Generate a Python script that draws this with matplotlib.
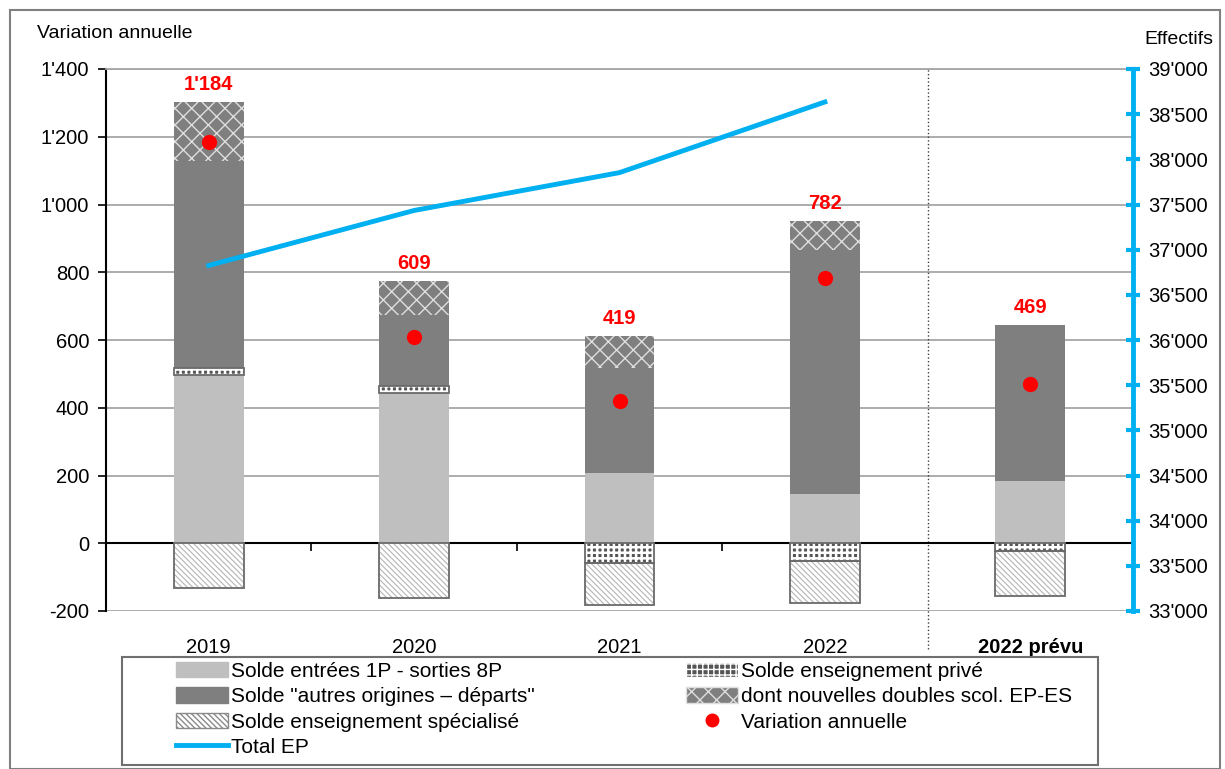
import numpy as np
import matplotlib
matplotlib.use('Agg')
import matplotlib.pyplot as plt
from matplotlib.patches import Patch, Rectangle
from matplotlib.lines import Line2D
from matplotlib.ticker import FuncFormatter

plt.rcParams['font.family'] = ['Liberation Sans', 'DejaVu Sans']

# données
annees = ['2019', '2020', '2021', '2022', '2022 prévu']
entrees = [496, 443, 207, 146, 185]          # Solde entrées 1P - sorties 8P
prive = [22, 20, -57, -51, -22]              # Solde enseignement privé
autres = [610, 212, 310, 721, 458]           # Solde "autres origines – départs"
doubles = [175, 98, 94, 84, 0]               # dont nouvelles doubles scol. EP-ES
specialise = [-133, -163, -125, -124, -133]  # Solde enseignement spécialisé
variation = [1184, 609, 419, 782, 469]       # Variation annuelle
total_ep = [36825, 37434, 37853, 38635]      # Total EP (effectifs)

GRIS_CLAIR = '#bfbfbf'
GRIS_FONCE = '#7f7f7f'
CYAN = '#00b0f0'

# styles des segments
st_entrees = dict(facecolor=GRIS_CLAIR, edgecolor=GRIS_CLAIR)
st_prive = dict(facecolor='#555555', hatch='+++', edgecolor='white')
st_autres = dict(facecolor=GRIS_FONCE, edgecolor=GRIS_FONCE)
st_doubles = dict(facecolor=GRIS_FONCE, hatch='xx', edgecolor='#dedede')
st_spe = dict(facecolor='white', hatch='\\\\\\\\\\\\', edgecolor='#b4b4b4')
hatch_lw = {id(st_prive): 1.8, id(st_doubles): 1.0, id(st_spe): 0.8}


def apos(v, pos=None):
    return f"{int(round(v)):,}".replace(',', "'")


def patch(style):
    with plt.rc_context({'hatch.linewidth': hatch_lw.get(id(style), 1.0)}):
        return Patch(**style)


fig = plt.figure(figsize=(12.25, 7.69), dpi=100)
ax = fig.add_axes([106/1225, 1-611/769, (1133-106)/1225, (611-69)/769])
ax2 = ax.twinx()

x = np.arange(len(annees))
w = 0.34

# empilement positif / négatif
series = [(entrees, st_entrees), (prive, st_prive), (autres, st_autres),
          (doubles, st_doubles), (specialise, st_spe)]
pos_cum = np.zeros(len(annees))
neg_cum = np.zeros(len(annees))
for vals, style in series:
    v = np.array(vals, dtype=float)
    bottom = np.where(v >= 0, pos_cum, neg_cum)
    with plt.rc_context({'hatch.linewidth': hatch_lw.get(id(style), 1.0)}):
        ax.bar(x, v, w, bottom=bottom, linewidth=0, zorder=3, **style)
    if style is st_prive or style is st_spe:
        # contour gris des segments hachurés
        ax.bar(x, v, w, bottom=bottom, fill=False, edgecolor='#6a6a6a',
               linewidth=1.3, zorder=4)
    pos_cum += np.where(v >= 0, v, 0)
    neg_cum += np.where(v < 0, v, 0)

ax.plot(x, variation, 'o', color='red', markersize=10, zorder=6)
for xi, top, val in zip(x, pos_cum, variation):
    ax.annotate(apos(val), (xi, top), xytext=(0, 6), textcoords='offset points',
                ha='center', va='bottom', color='red', fontsize=14.5,
                fontweight='bold', zorder=7)

# axe gauche
ax.set_xlim(-0.5, len(annees) - 0.5)
ax.set_ylim(-200, 1400)
ax.set_yticks(np.arange(-200, 1401, 200))
ax.yaxis.set_major_formatter(FuncFormatter(apos))
ax.yaxis.grid(True, color='#a6a6a6', linewidth=1.3, zorder=0)
ax.set_axisbelow(True)
ax.tick_params(axis='y', labelsize=14.5, length=6, width=1.2, color='black', pad=6)
ax.spines['left'].set_linewidth(1.5)
ax.spines['top'].set_color('#a6a6a6')
ax.spines['top'].set_linewidth(1.3)
ax.spines['right'].set_visible(False)
ax.spines['bottom'].set_position(('data', 0))
ax.spines['bottom'].set_linewidth(1.5)
ax.set_xticks([0.5, 1.5, 2.5, 4.5])
ax.set_xticklabels([])
ax.tick_params(axis='x', length=6, width=1.2, direction='out')
for i, lab in enumerate(annees):
    ax.text(i, -0.05, lab, transform=ax.get_xaxis_transform(), ha='center', va='top',
            fontsize=14.5, fontweight='bold' if 'prévu' in lab else 'normal')

ax.axvline(3.5, ymin=-0.07, ymax=1, color='#404040', linestyle=':', linewidth=1,
           clip_on=False, zorder=2)

# axe droit (effectifs), dessiné par-dessus les barres
ax2.plot(x[:len(total_ep)], total_ep, color=CYAN, linewidth=3.5, zorder=5)
ax2.set_ylim(33000, 39000)
ax2.set_yticks(np.arange(33000, 39001, 500))
ax2.yaxis.set_major_formatter(FuncFormatter(apos))
ax2.tick_params(axis='y', labelsize=14.5, direction='inout', length=10, width=3,
                color=CYAN, pad=6)
ax2.spines['right'].set_color(CYAN)
ax2.spines['right'].set_linewidth(3.5)
for s in ['left', 'top', 'bottom']:
    ax2.spines[s].set_visible(False)
ax2.set_zorder(ax.get_zorder() + 1)
ax2.patch.set_visible(False)

fig.text(37/1225, 1-34/769, 'Variation annuelle', fontsize=14, va='center', ha='left')
fig.text(1213/1225, 1-40/769, 'Effectifs', fontsize=14, va='center', ha='right')

# légende en deux colonnes, cadre commun
col1 = [(patch(st_entrees), 'Solde entrées 1P - sorties 8P'),
        (patch(st_autres), 'Solde "autres origines – départs"'),
        (Patch(facecolor='white', hatch='\\\\\\\\\\\\', edgecolor='#8a8a8a'),
         'Solde enseignement spécialisé'),
        (Line2D([], [], color=CYAN, linewidth=3.5), 'Total EP')]
col2 = [(patch(st_prive), 'Solde enseignement privé'),
        (patch(st_doubles), 'dont nouvelles doubles scol. EP-ES'),
        (Line2D([], [], marker='o', color='red', linestyle='none', markersize=9),
         'Variation annuelle')]
kw = dict(loc='upper left', fontsize=15, handlelength=2.5, handleheight=0.75,
          handletextpad=0.15, labelspacing=0.3, borderpad=0, frameon=False,
          borderaxespad=0)
leg1 = fig.legend(*zip(*col1), bbox_to_anchor=(176/1225, 1-662/769), **kw)
leg2 = fig.legend(*zip(*col2), bbox_to_anchor=(686/1225, 1-662/769), **kw)

fig.patches.append(Rectangle((122/1225, 1-765/769), (1098-122)/1225, (765-657)/769,
                             transform=fig.transFigure, fill=False,
                             edgecolor='#707070', linewidth=1.5))
fig.patches.append(Rectangle((10/1225, 0), 1210/1225, 1-10/769, transform=fig.transFigure,
                             fill=False, edgecolor='#808080', linewidth=1.5))

fig.savefig('out.png', dpi=100)
